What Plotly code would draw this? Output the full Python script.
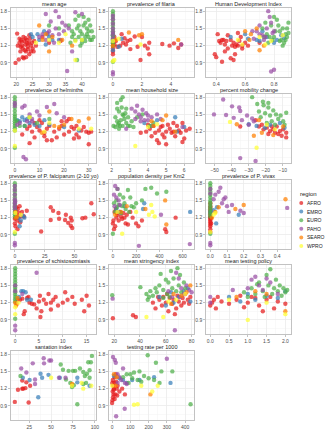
import plotly.graph_objects as go

REGIONS = ["AFRO", "EMRO", "EURO", "PAHO", "SEARO", "WPRO"]
COLORS = {"AFRO": "#E41A1C", "EMRO": "#377EB8", "EURO": "#4DAF4A",
          "PAHO": "#984EA3", "SEARO": "#FF7F00", "WPRO": "#FFFF33"}

# ---------------- data (x, Rt) per region ----------------
mean_age = {
    "AFRO": [(20.3,1.41),(19.8,0.9),(20.8,0.96),(21,1.25),(21.5,1.3),(21.8,1.2),(22,1.15),(22.2,1.35),(22.5,1.28),
             (22.8,1.22),(23,1.1),(23.2,1.3),(23.5,1.18),(23.8,1.25),(24,1.05),(24.2,1.32),(24.5,1.2),(25,1.15),
             (21.3,1.1),(22,1.0),(23,1.0),(24.5,1.1),(25.5,1.28),(20.5,1.2),(21,1.32),(22.6,1.12),(23.4,1.24),
             (24,1.38),(21.7,1.27),(22.9,1.33),(26,1.2),(25.3,1.1),(22.3,0.98),(23.6,1.14),(21.4,1.18),(24.8,1.25),
             (33.5,1.28),(28,1.35),(30,1.25)],
    "EMRO": [(25,1.35),(26.5,1.4),(27,1.3),(28.5,1.45),(30,1.35),(31,1.3),(24.5,1.4),(29,1.22),(33,1.3),(29.5,1.4)],
    "EURO": [(36,1.55),(37,1.45),(37.5,1.4),(38,1.65),(38.5,1.5),(39,1.35),(39.5,1.45),(40,1.3),(40.5,1.55),(41,1.6),
             (41.5,1.4),(42,1.35),(42.5,1.3),(43,1.45),(38,1.3),(39,1.55),(40,1.4),(41,1.35),(42,1.65),(43,1.3),
             (37,1.35),(40.5,1.7),(41.5,1.5),(42.5,1.55),(38.5,0.95),(39.5,1.2),(36.5,1.25),(40,1.25),(43.5,1.35),
             (42,1.45),(33,1.5),(30,1.55),(39,1.72),(41,1.28)],
    "PAHO": [(29,1.75),(32,1.8),(33,1.7),(34,1.6),(30.5,1.62),(27,1.35),(28,1.4),(29,1.3),(30,1.45),(31,1.38),(32,1.5),
             (31.5,1.25),(33,1.4),(34.5,1.45),(35,1.55),(36,1.5),(38,1.78),(40,1.75),(35.5,0.76),(37,1.1),(33.5,1.3),(29.5,1.42)],
    "SEARO": [(27,1.55),(29,1.4),(30,1.1),(31,1.35),(34,1.3),(37,1.2),(28,1.3)],
    "WPRO": [(26,1.25),(30,1.3),(33,1.25),(38,1.28),(38,0.95),(40,1.3),(35,1.4)],
}

filaria = {
    "AFRO": [(0.6,1.4),(0.8,1.33),(1.0,1.28),(1.2,1.3),(1.5,1.36),(1.7,1.18),(2.0,1.35),(2.2,1.2),(2.5,1.25),(2.5,1.05),
             (2.4,1.15),(1.2,1.14),(0.5,1.2),(0.9,1.22),(3.4,1.23),(3.9,1.2),(4.2,1.24),(4.5,1.16),(4.7,1.22),(0.3,1.18),
             (0.7,1.25),(1.9,0.95),(0,1.1),(0,1.15),(0,1.2),(0,1.25),(0,1.3),(0,1.05),(0.1,1.22),(0.2,1.28),(0.1,1.35)],
    "EMRO": [(0.6,1.32),(0.4,1.18),(0,1.12),(0,1.3),(0,1.38)],
    "EURO": [(0,1.8),(0,1.75),(0,1.7),(0,1.65),(0,1.6),(0,1.55),(0,1.5),(0,1.45),(0,1.42),(0,1.38),(0,1.35),(0,1.3),
             (0,1.27),(0,1.24),(0,1.2),(0,0.92)],
    "PAHO": [(0,1.72),(0,1.66),(0,1.58),(0,1.5),(0,1.44),(0,1.4),(0,1.33),(0,0.74),(0,0.7),(4.7,1.22)],
    "SEARO": [(1.1,1.43),(1.8,1.38),(2.0,1.4),(4.5,1.3),(0.2,1.3),(0,1.2)],
    "WPRO": [(0.4,1.32),(1.9,1.22),(0.1,0.95),(0,1.28),(0,0.93)],
}

hdi = {
    "AFRO": [(0.39,1.05),(0.4,1.0),(0.41,1.4),(0.42,1.28),(0.43,1.25),(0.44,0.92),(0.45,1.3),(0.46,1.22),(0.47,1.28),
             (0.48,1.15),(0.5,1.3),(0.51,1.2),(0.52,1.25),(0.53,1.18),(0.54,1.22),(0.55,1.2),(0.56,1.28),(0.57,1.35),
             (0.58,1.2),(0.5,0.98),(0.52,0.95),(0.46,1.1),(0.6,1.25),(0.62,1.2),(0.55,1.42),(0.48,1.38),(0.44,1.3),
             (0.7,1.25),(0.58,1.15),(0.53,1.05)],
    "EMRO": [(0.5,1.35),(0.6,1.4),(0.68,1.3),(0.72,1.45),(0.75,1.35),(0.82,1.3),(0.8,1.25),(0.85,1.38),(0.62,1.32),
             (0.7,1.28),(0.87,1.33)],
    "EURO": [(0.72,1.5),(0.75,1.4),(0.78,1.55),(0.8,1.35),(0.82,1.65),(0.84,1.45),(0.85,1.3),(0.86,1.5),(0.88,1.4),
             (0.89,1.35),(0.9,1.6),(0.87,1.25),(0.83,1.55),(0.79,1.3),(0.81,1.45),(0.77,1.35),(0.74,1.6),(0.89,1.5),
             (0.88,1.3),(0.86,1.2),(0.84,1.28),(0.9,1.42),(0.8,1.7),(0.76,1.25),(0.73,1.35)],
    "PAHO": [(0.68,1.45),(0.7,1.4),(0.72,1.38),(0.74,1.35),(0.76,1.8),(0.77,1.7),(0.78,1.6),(0.75,1.5),(0.8,1.45),
             (0.73,1.3),(0.7,1.55),(0.65,1.45),(0.78,0.75),(0.8,0.78),(0.66,1.32),(0.79,1.42)],
    "SEARO": [(0.6,1.45),(0.64,1.4),(0.68,1.5),(0.7,1.12),(0.63,1.3),(0.73,1.2)],
    "WPRO": [(0.58,1.22),(0.7,1.35),(0.78,1.28),(0.86,1.38),(0.55,1.3),(0.74,1.22)],
}

helminths = {
    "AFRO": [(3,1.15),(5,1.25),(6,1.3),(7,1.2),(8,1.1),(9,1.28),(10,1.22),(11,1.35),(12,1.18),(13,1.25),(14,1.3),
             (15,1.05),(16,1.2),(17,1.1),(18,1.25),(19,1.3),(20,1.15),(21,1.38),(22,1.2),(23,1.28),(24,1.25),(25,1.3),
             (26,1.1),(27,1.22),(28,1.28),(29,1.2),(30,1.18),(31,1.2),(30,0.98),(24,1.08),(25,1.15),(22,1.42),(13,1.05),
             (19,1.38),(10,1.4),(12,1.12),(6,1.0),(8,1.35)],
    "EMRO": [(1,1.4),(2,1.38),(3,1.45),(4,1.3),(5,1.42),(6,1.35),(8,1.32),(10,1.3),(12,1.4),(14,1.32),(20,1.28),
             (26,1.22),(4,1.4)],
    "EURO": [(0,1.8),(0,1.74),(0,1.68),(0,1.62),(0,1.56),(0,1.5),(0,1.46),(0,1.42),(0,1.38),(0,1.34),(0,1.3),(0,1.26),
             (0,1.22),(1,1.38),(2,1.3),(4,1.3),(6,1.45),(9,1.35),(14,1.42),(0,0.92)],
    "PAHO": [(2,1.35),(3,1.62),(4,1.65),(5,1.38),(6,1.5),(7,1.42),(9,1.55),(10,1.48),(13,1.63),(16,1.68),(17,1.52),
             (20,1.45),(3.5,0.76),(4.5,0.72),(7,1.38),(1,1.32),(0,1.7),(0,1.65)],
    "SEARO": [(11,1.18),(14,1.55),(18,1.28),(20,1.32),(23,1.42),(26,1.38),(30,1.43),(16,1.3)],
    "WPRO": [(0,0.95),(0,1.22),(6,1.45),(12,1.2),(14,1.35),(26,1.25),(31,1.25)],
}

household = {
    "AFRO": [(3.6,1.18),(3.9,1.2),(4.1,1.25),(4.3,1.3),(4.4,1.18),(4.5,1.05),(4.6,1.22),(4.7,1.28),(4.8,1.15),(4.9,1.1),
             (5.0,1.2),(5.1,1.32),(5.2,1.25),(5.3,1.18),(5.4,1.2),(5.5,1.12),(5.6,1.3),(5.7,1.22),(5.8,1.18),(5.9,1.35),
             (6.0,1.08),(6.1,1.22),(6.3,1.25),(4.2,1.12),(4.6,1.0),(5.0,0.98),(5.9,1.02),(4.0,1.32),(5.4,1.35),(4.8,1.3)],
    "EMRO": [(3.8,1.35),(4.5,1.4),(5.5,1.45),(5.6,1.2),(6.0,1.28),(4.2,1.3)],
    "EURO": [(2.1,1.3),(2.2,1.45),(2.3,1.6),(2.3,1.7),(2.4,1.55),(2.4,1.35),(2.5,1.4),(2.5,1.75),(2.6,1.5),(2.6,1.3),
             (2.7,1.42),(2.8,1.35),(2.8,1.6),(2.9,1.45),(3.0,1.3),(3.1,1.38),(2.2,1.28),(2.35,1.32),(2.45,1.3),
             (2.55,1.62),(2.65,1.48),(2.75,1.52),(2.9,1.3),(3.2,1.28),(3.4,1.45),(2.3,1.38),(2.6,1.8),(2.4,1.25),
             (3.7,1.5),(4.3,1.35),(4.1,1.3)],
    "PAHO": [(3.1,1.6),(3.3,1.55),(3.4,1.65),(3.5,1.5),(3.6,1.45),(3.7,1.58),(3.8,1.4),(3.9,1.52),(4.0,1.48),(4.2,1.45),
             (4.5,1.5),(4.7,1.42),(3.3,1.42),(3.6,1.38),(4.0,1.4),(5.9,1.28),(2.8,1.25)],
    "SEARO": [(4.3,1.3),(4.8,1.4),(5.0,1.48),(4.2,1.38),(5.5,1.2)],
    "WPRO": [(3.3,0.95),(4.0,1.28),(4.5,1.33)],
}

mobility = {
    "AFRO": [(-22.3,1.32),(-21.3,1.24),(-19.4,1.27),(-17.5,1.21),(-15.6,1.24),(-13.6,1.29),(-11.7,1.21),(-9.8,1.24),
             (-8,1.18),(-26,1.4),(-24,1.29),(-12.7,1.16),(-10.7,1.13),(-35,1.29),(-18.5,1.16),(-14.6,1.18),(-8,1.1),
             (-16.5,1.29)],
    "EMRO": [(-30,1.33),(-25.4,1.3),(-17.5,1.32),(-11.7,1.35),(-20.4,1.27),(-9,1.27)],
    "EURO": [(-28,1.8),(-21.7,1.72),(-21.3,1.66),(-18.5,1.62),(-24,1.55),(-20.4,1.52),(-15.6,1.57),(-17.5,1.48),
             (-14,1.5),(-12.7,1.42),(-11.3,1.48),(-9.8,1.38),(-16.5,1.38),(-19.4,1.35),(-14.6,1.32),(-9,1.32),
             (-18.5,1.7),(-23,1.45),(-8,1.53),(-25,1.68)],
    "PAHO": [(-50.4,1.5),(-45,1.76),(-43.3,1.49),(-39.8,1.64),(-35.6,1.62),(-35,1.56),(-38.8,1.44),(-34,1.4),
             (-31,1.48),(-28,1.43),(-30,1.32),(-35,0.74),(-26,0.69),(-27,1.38)],
    "SEARO": [(-37,1.33),(-27,1.13),(-22.3,1.18),(-15.6,1.14),(-9.8,1.29),(-24,1.4)],
    "WPRO": [(-41,1.37),(-25.4,0.92),(-19.4,1.32),(-14.6,1.24)],
}

falciparum = {
    "AFRO": [(10,1.32),(7.6,1.22),(22,0.96),(30,1.38),(32,1.32),(30,1.16),(36.5,1.28),(37,1.18),(42.7,1.25),(42,1.16),
             (44.6,1.11),(46.8,1.2),(47.6,1.15),(48,1.02),(56.5,1.19),(59,1.2),(64,1.45),(66,1.26),(46.8,1.06),
             (0,1.1),(0.5,1.2),(1,1.3),(1.5,1.25),(2,1.15),(2.5,1.35),(3,1.2),(3.5,1.28),(4,1.4),(0.5,1.05),(1.2,1.38),
             (5,1.22),(6,1.3),(0,1.18),(2.2,1.0),(4.5,1.12)],
    "EMRO": [(3,1.2),(5,1.15),(7,1.23),(8,1.2),(4,1.05),(0.5,1.32)],
    "EURO": [(0,1.8),(0,1.75),(0,1.7),(0,1.65),(0,1.6),(0,1.55),(0,1.5),(0,1.46),(0,1.42),(0,1.38),(0,1.34),(0,1.3),
             (0,1.26),(0,1.22),(0,0.92)],
    "PAHO": [(0,1.75),(0,1.68),(0,1.6),(0,1.52),(0,1.45),(0,1.4),(0,1.35),(0,0.76),(0,0.72),(0.3,1.48)],
    "SEARO": [(1,1.2),(0.5,1.3),(2,1.22)],
    "WPRO": [(5,1.25),(0,0.95),(0.5,1.28)],
}

pop_density = {
    "AFRO": [(540,1.2),(450,1.0),(460,0.95),(220,1.05),(200,1.1),(250,1.15),(0,1.1),(10,1.0),(20,1.05),(30,1.2),
             (40,1.25),(50,1.15),(60,1.3),(70,1.22),(80,1.18),(90,1.28),(100,1.2),(110,1.1),(120,1.25),(130,1.08),
             (150,1.3),(170,1.2),(5,1.15),(15,1.3),(25,1.35),(35,1.28)],
    "EMRO": [(665,1.3),(270,1.45),(260,1.35),(60,1.3),(30,1.35),(100,1.4)],
    "EURO": [(130,1.68),(200,1.45),(250,1.5),(280,1.7),(380,1.62),(460,1.65),(330,1.72),(150,1.55),(100,1.45),
             (180,1.38),(0,0.92),(30,1.5),(60,1.6),(80,1.4),(110,1.35),(40,1.7),(20,1.3),(70,1.28),(50,1.42),(90,1.55),
             (10,1.45),(35,1.38),(140,1.3),(160,1.4)],
    "PAHO": [(20,1.75),(40,1.7),(10,1.6),(30,1.55),(50,1.5),(414,1.25),(662,0.74),(224,0.71),(60,1.42),(15,1.4)],
    "SEARO": [(450,1.5),(280,1.35),(120,1.4),(70,1.3),(20,1.25),(460,1.08)],
    "WPRO": [(310,1.25),(340,1.3),(360,1.22),(330,1.42),(200,1.3),(80,0.92),(40,1.3)],
}

vivax = {
    "AFRO": [(0,0.95),(0,1.0),(0,1.05),(0,1.08),(0,1.12),(0,1.15),(0,1.18),(0,1.2),(0,1.22),(0,1.25),(0,1.28),
             (0,1.3),(0,1.33),(0,1.36),(0,1.4),(0,1.45),(0.005,1.1),(0.005,1.2)],
    "EMRO": [(0.035,1.1),(0.17,1.25),(0.04,1.38),(0.02,1.33),(0,1.3)],
    "EURO": [(0,1.8),(0,1.75),(0,1.7),(0,1.65),(0,1.6),(0,1.55),(0,1.5),(0,1.46),(0,1.42),(0,1.38),(0,1.34),(0,1.3),
             (0,1.26),(0,1.22),(0,0.92)],
    "PAHO": [(0.03,1.6),(0.05,1.65),(0.07,1.45),(0.08,1.52),(0.09,1.55),(0.1,1.4),(0.13,1.42),(0.18,1.32),(0.2,1.28),
             (0.02,1.52),(0.06,1.72),(0.11,1.3),(0.46,1.37),(0,0.76),(0,0.72),(0,1.7),(0,1.62)],
    "SEARO": [(0.03,1.3),(0.05,1.38),(0.15,1.35),(0.2,1.42),(0.45,1.52),(0.01,1.2)],
    "WPRO": [(0.02,1.25),(0.03,1.28),(0,0.95)],
}

schisto = {
    "AFRO": [(0.3,1.18),(1,1.25),(1.5,1.27),(2,1.05),(2.5,1.28),(3,1.2),(4,1.17),(4.5,1.1),(5,1.22),(5.2,1.32),
             (5.5,1.05),(6,1.25),(6.5,1.18),(7,1.35),(7.5,1.2),(8,1.25),(8.5,1.3),(9,1.15),(10,1.2),(10.5,1.38),
             (11,1.25),(12,1.3),(12.5,1.18),(14,1.25),(15,1.32),(15.5,1.15),(14.5,1.05),(5.3,0.95),(7.5,1.08),
             (3.5,1.18),(2.8,1.3),(1.8,1.0),(0.5,1.25)],
    "EMRO": [(1.3,1.4),(1.7,1.4),(2.2,1.38),(2.5,1.25),(0.8,1.3),(3.3,1.25)],
    "EURO": [(0,1.8),(0,1.75),(0,1.7),(0,1.65),(0,1.6),(0,1.55),(0,1.5),(0,1.46),(0,1.42),(0,1.38),(0,1.34),(0,1.3),
             (0,1.26),(0,1.22),(0,0.92)],
    "PAHO": [(0,0.72),(0,0.8),(4.5,1.72),(1.5,1.35),(0,1.5),(0,1.4)],
    "SEARO": [(0,1.2),(0.2,1.15),(0.5,1.28)],
    "WPRO": [(0,1.0),(0,1.12),(0.7,1.2)],
}

stringency = {
    "AFRO": [(19,0.93),(34.6,0.98),(36.8,0.95),(50,1.2),(52,1.1),(55,1.25),(57,1.15),(58,1.3),(60,1.2),(62,1.05),
             (63,1.28),(65,1.18),(66,1.25),(68,1.1),(69,1.32),(70,1.22),(72,1.15),(73,1.28),(74,1.2),(75,1.35),
             (77,1.25),(78,1.18),(79,1.3),(54,1.3),(61,1.35),(67,1.0)],
    "EMRO": [(55,1.3),(60,1.15),(64,1.38),(70,1.3),(74,1.4),(77,1.45),(79,1.22),(66,1.2)],
    "EURO": [(18.5,1.33),(40.3,1.47),(45,1.35),(47,1.3),(48,1.4),(50,1.32),(52,1.45),(53,1.38),(55,1.5),(56,1.7),
             (58,1.42),(60,1.6),(61,1.35),(62,1.55),(64,1.75),(65,1.45),(66,1.62),(68,1.4),(70,1.5),(71,1.68),
             (72,1.38),(74,1.55),(75,1.45),(46,1.25),(58,1.28),(63,1.3),(69,1.8)],
    "PAHO": [(18.8,1.27),(62,1.4),(65,1.3),(68,1.72),(70,1.62),(72,1.45),(74,1.35),(76,1.5),(78,1.42),(80,1.38),
             (67,0.72),(71,1.3)],
    "SEARO": [(66,1.35),(72,1.32),(76,1.38),(79,1.5),(64,1.18)],
    "WPRO": [(45,0.95),(58,0.95),(75,1.35),(68,1.25),(62,1.22)],
}

testing_policy = {
    "AFRO": [(0,1.15),(0.05,1.2),(0.1,1.25),(0.15,1.1),(0.2,1.3),(0.3,1.22),(0.5,1.18),(0.7,1.25),(0.9,1.12),
             (1.0,1.2),(1.1,1.3),(1.2,1.28),(1.3,1.15),(1.5,1.25),(1.6,1.3),(1.8,1.22),(2.0,1.18),(1.4,1.05),
             (0.8,1.32),(1.7,1.1)],
    "EMRO": [(0.5,1.3),(1.0,1.35),(1.2,1.25),(1.5,1.32),(1.8,1.28),(2.0,1.4),(0.8,1.22)],
    "EURO": [(1.0,1.3),(1.1,1.45),(1.2,1.35),(1.3,1.55),(1.4,1.4),(1.5,1.68),(1.55,1.5),(1.6,1.78),(1.65,1.35),
             (1.7,1.45),(1.75,1.6),(1.8,1.4),(1.85,1.5),(1.9,1.32),(1.95,1.45),(2.0,1.38),(2.05,1.42),(1.45,1.3),
             (1.25,1.52),(0.9,1.38)],
    "PAHO": [(0,1.2),(0,1.3),(1.0,1.45),(1.1,1.6),(1.2,1.65),(1.3,1.5),(1.4,1.42),(1.5,1.62),(1.6,1.55),
             (0.6,1.42),(1.8,1.35)],
    "SEARO": [(2.0,1.05),(1.5,1.35),(1.2,1.4),(0.7,1.3)],
    "WPRO": [(1.0,0.9),(2.0,1.0),(1.5,1.2),(0.5,1.25)],
}

sanitation = {
    "AFRO": [(8.5,0.97),(12.1,1.18),(17,1.2),(18,1.2),(20.6,1.21),(24.3,0.96),(26,1.25),(17,1.34),(21.7,1.31)],
    "EMRO": [(17.6,1.39),(25.4,1.35),(37.9,1.46),(39.7,1.39),(47,1.44),(35.3,1.05),(60,1.39),(80,1.31),(94,1.25),
             (80,1.39)],
    "EURO": [(15,1.42),(61,1.62),(63.6,1.53),(67,1.36),(70,1.51),(75,1.51),(77.5,1.51),(83,1.55),(86.8,1.49),
             (88.6,1.42),(91,1.46),(94,1.52),(95.5,1.66),(94,1.39),(90,1.3),(86.8,1.28),(80,0.93),(76,1.26),
             (73.9,1.23),(72,1.3),(96.7,1.77),(92.5,1.66)],
    "PAHO": [(15.8,1.55),(21.7,1.48),(29,1.64),(41.5,1.73),(41.9,1.64),(48,1.69),(50,1.69),(31.6,1.28),(31.6,1.36),
             (66.5,1.39),(59,1.39)],
    "SEARO": [(74,1.28)],
    "WPRO": [(50,1.39),(73.9,1.25),(86.8,1.2),(96,1.25),(85,1.3)],
}

testing_rate = {
    "AFRO": [(0,0.95),(2,1.0),(5,1.05),(8,1.1),(3,1.15),(10,1.2),(6,1.25),(12,1.3),(4,1.35),(15,1.4),(20,1.45),
             (25,1.2),(18,1.1),(30,1.25),(1,1.3),(9,1.18),(14,1.02),(22,1.32),(28,1.08),(40,1.15),(55,1.2),(70,1.1)],
    "EMRO": [(10,1.42),(40,1.38),(60,1.35),(110,1.35),(80,1.3),(230,1.4),(320,1.3),(150,1.35)],
    "EURO": [(195,1.78),(240,1.65),(270,1.5),(150,1.5),(120,1.48),(100,1.45),(80,1.45),(60,1.4),(175,1.42),
             (200,1.38),(230,1.35),(160,1.32),(140,1.35),(260,1.3),(330,1.5),(430,0.93),(90,1.3),(110,1.38)],
    "PAHO": [(5,1.75),(15,1.7),(20,1.65),(60,1.55),(30,1.45),(40,1.4),(50,1.35),(70,1.3),(30,1.3),(80,1.28),
             (300,1.72),(22,0.72),(69,0.85)],
    "SEARO": [(10,1.45),(20,1.25),(25,1.4),(210,1.1)],
    "WPRO": [(0,1.25),(120,0.92),(140,0.93),(160,1.25),(250,1.25),(220,1.15)],
}

# panel title, data, first tick, tick step, x range, tick format
PANELS = [
    ("mean age", mean_age, 20, 5, (18.4, 44.3), ""),
    ("prevalence of filaria", filaria, 0, 2, (-0.27, 5.6), ""),
    ("Human Development Index", hdi, 0.4, 0.2, (0.33, 0.92), ".1f"),
    ("prevalence of helminths", helminths, 0, 10, (-1.6, 33), ""),
    ("mean household size", household, 2, 1, (1.85, 6.55), ""),
    ("percent mobility change", mobility, -50, 10, (-55, -5), ""),
    ("prevalence of P. falciparum (2-10 yo)", falciparum, 0, 25, (-3.3, 68), ""),
    ("population density per Km2", pop_density, 0, 200, (-33, 700), ""),
    ("prevalence of P. vivax", vivax, 0, 0.1, (-0.025, 0.485), ".1f"),
    ("prevalence of schistosomiasis", schisto, 0, 5, (-0.9, 17), ""),
    ("mean stringency index", stringency, 20, 20, (16, 82), ""),
    ("mean testing policy", testing_policy, 0, 0.5, (-0.11, 2.16), ".1f"),
    ("santation index", sanitation, 25, 25, (4, 101.5), ""),
    ("testing rate per 1000", testing_rate, 0, 100, (-17, 450), ""),
]
Y_RANGE = (0.655, 1.855)
Y_TICKS = [0.9, 1.2, 1.5, 1.8]

# ---------------- layout geometry (pixels) ----------------
W, H = 333, 440
COLS = [(11, 97), (110, 196), (208, 294)]
ROWS = [(8, 77), (94, 163), (180, 249), (265, 334), (351, 420)]

FONT = "Liberation Sans, Arial, sans-serif"
GRID = "#EBEBEB"
BORDER = "#B3B3B3"

fig = go.Figure()
layout = {}
annotations = []
shapes = []

for i, (title, data, t0, dt, xr, fmt) in enumerate(PANELS):
    r, c = divmod(i, 3)
    n = i + 1
    xa, ya = ("x" if n == 1 else f"x{n}"), ("y" if n == 1 else f"y{n}")
    x0, x1 = COLS[c]
    y0, y1 = ROWS[r]
    common = dict(showline=True, mirror=True, linecolor=BORDER, linewidth=0.8,
                  showgrid=True, gridcolor=GRID, gridwidth=0.8, zeroline=False,
                  ticks="outside", ticklen=2, tickcolor=BORDER, tickwidth=0.8,
                  tickfont=dict(family=FONT, size=5, color="#4D4D4D"))
    layout[f"xaxis{'' if n == 1 else n}"] = dict(
        domain=[x0 / W, x1 / W], anchor=ya, range=list(xr), tick0=t0, dtick=dt, tickformat=fmt,
        minor=dict(showgrid=True, gridcolor="#F4F4F4", gridwidth=0.5, tick0=t0, dtick=dt / 2, ticks=""),
        **common)
    layout[f"yaxis{'' if n == 1 else n}"] = dict(
        domain=[1 - y1 / H, 1 - y0 / H], anchor=xa, range=list(Y_RANGE), tickvals=Y_TICKS,
        ticktext=[f"{v:.1f}" for v in Y_TICKS],
        minor=dict(showgrid=True, gridcolor="#F4F4F4", gridwidth=0.5, tickvals=[0.75, 1.05, 1.35, 1.65], ticks=""),
        **common)
    annotations.append(dict(text=title, x=(x0 + x1) / 2 / W, y=1 - (y0 - 3.8) / H, xref="paper", yref="paper",
                            xanchor="center", yanchor="middle", showarrow=False,
                            font=dict(family=FONT, size=5.5, color="#1A1A1A")))
    for reg in REGIONS:
        pts = data.get(reg, [])
        fig.add_trace(go.Scatter(
            x=[p[0] for p in pts], y=[p[1] for p in pts], xaxis=xa, yaxis=ya, mode="markers",
            marker=dict(color=COLORS[reg], size=4.4, opacity=0.72, line=dict(width=0)),
            showlegend=False, hoverinfo="skip"))

# ---------------- manual legend ----------------
LEG_X, LEG_TITLE_Y, LEG_Y0, LEG_DY = 304, 194, 203, 8.6
annotations.append(dict(text="region", x=(LEG_X - 3) / W, y=1 - LEG_TITLE_Y / H, xref="paper", yref="paper",
                        xanchor="left", yanchor="middle", showarrow=False,
                        font=dict(family=FONT, size=6, color="#1A1A1A")))
for k, reg in enumerate(REGIONS):
    yy = LEG_Y0 + k * LEG_DY
    shapes.append(dict(type="circle", xref="paper", yref="paper",
                       x0=(LEG_X - 2) / W, x1=(LEG_X + 2) / W, y0=1 - (yy + 2) / H, y1=1 - (yy - 2) / H,
                       fillcolor=COLORS[reg], opacity=0.72, line=dict(width=0)))
    annotations.append(dict(text=reg, x=(LEG_X + 4) / W, y=1 - yy / H, xref="paper", yref="paper",
                            xanchor="left", yanchor="middle", showarrow=False,
                            font=dict(family=FONT, size=5, color="#1A1A1A")))

fig.update_layout(width=W, height=H, margin=dict(l=0, r=0, t=0, b=0),
                  paper_bgcolor="white", plot_bgcolor="white",
                  annotations=annotations, shapes=shapes, **layout)
fig.write_html("out.html", config={"displayModeBar": False, "staticPlot": True},
               post_script="document.body.style.margin='0';document.body.style.padding='0';"
                           "document.body.style.overflow='hidden';")
